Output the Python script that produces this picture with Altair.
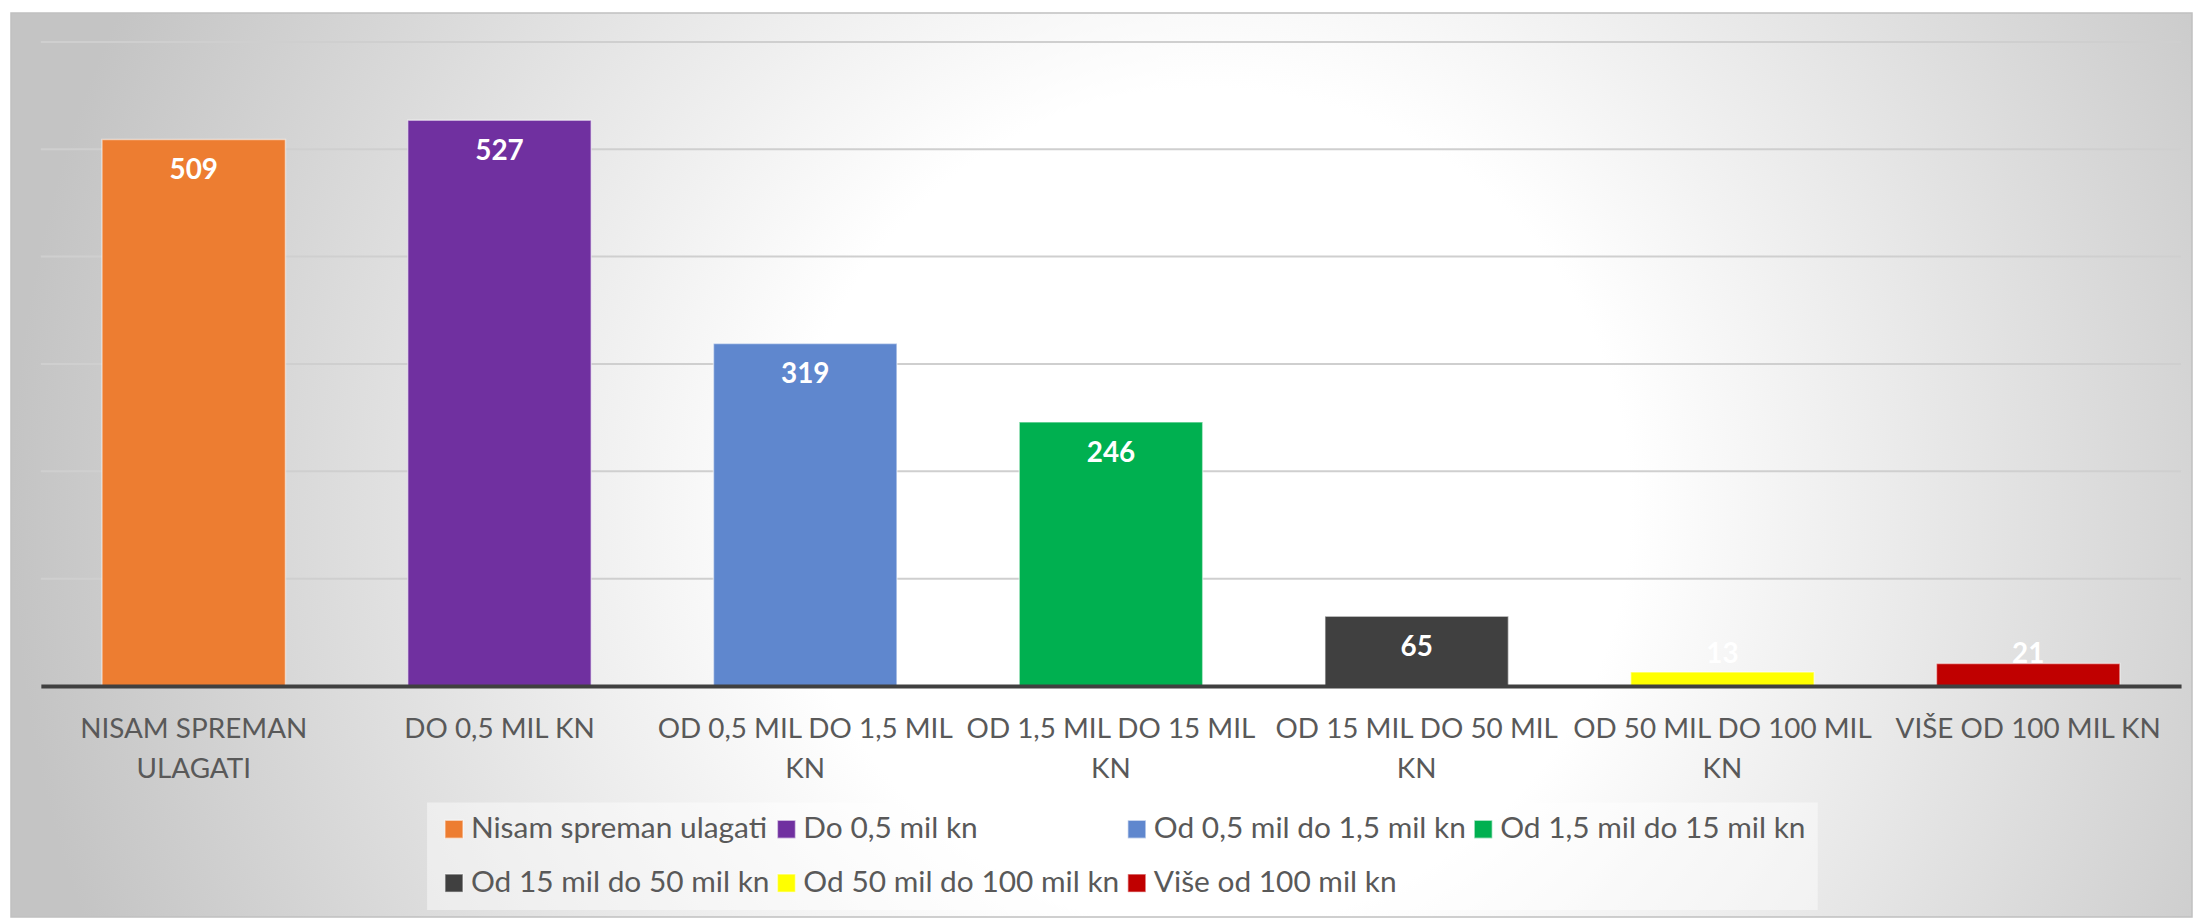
import altair as alt
import pandas as pd

# ---- data ----
legend_names = [
    "Nisam spreman ulagati",
    "Do 0,5 mil kn",
    "Od 0,5 mil do 1,5 mil kn",
    "Od 1,5 mil do 15 mil kn",
    "Od 15 mil do 50 mil kn",
    "Od 50 mil do 100 mil kn",
    "Više od 100 mil kn",
]
axis_labels = [
    "NISAM SPREMAN|ULAGATI",
    "DO 0,5 MIL KN",
    "OD 0,5 MIL DO 1,5 MIL|KN",
    "OD 1,5 MIL DO 15 MIL|KN",
    "OD 15 MIL DO 50 MIL|KN",
    "OD 50 MIL DO 100 MIL|KN",
    "VIŠE OD 100 MIL KN",
]
values = [509, 527, 319, 246, 65, 13, 21]
colors = ["#ED7D31", "#7030A0", "#5F87CE", "#00B050", "#404040", "#FFFF00", "#C00000"]
grid_values = [100, 200, 300, 400, 500, 600]

df = pd.DataFrame({"legend": legend_names, "axis": axis_labels, "value": values})
grid_df = pd.DataFrame({"g": grid_values})

W, H = 2150, 647
FONT = "Lato"

yscale = alt.Scale(domain=[0, 600], nice=False, zero=True)

xenc = alt.X(
    "axis:N",
    sort=axis_labels,
    scale=alt.Scale(paddingInner=0.4, paddingOuter=0.2),
    axis=alt.Axis(
        title=None,
        labelAngle=0,
        labelExpr="split(datum.label, '|')",
        labelFont=FONT,
        labelFontSize=28,
        labelColor="#595959",
        labelLineHeight=40,
        labelPadding=30,
        labelLimit=500,
        ticks=False,
        domainColor="#404040",
        domainWidth=4,
        zindex=1,
    ),
)

bg = alt.Chart(pd.DataFrame({"k": [0]})).mark_rect(
    fill=alt.Gradient(
        gradient="radial",
        stops=[
            alt.GradientStop(color="#ffffff", offset=0),
            alt.GradientStop(color="#ffffff", offset=0.35),
            alt.GradientStop(color="#c4c4c4", offset=1),
        ],
        x1=0.55, y1=0.52, r1=0, x2=0.55, y2=0.52, r2=0.55,
    ),
    stroke="#c0c0c0",
    strokeWidth=1.5,
).encode(
    x=alt.value(-30), x2=alt.value(W + 11),
    y=alt.value(-29), y2=alt.value(H + 232),
)

grid = alt.Chart(grid_df).mark_rule(color="#cfcfcf", strokeWidth=2).encode(
    y=alt.Y("g:Q", scale=yscale, axis=None)
)

bars = alt.Chart(df).mark_bar(stroke="white", strokeOpacity=0.5, strokeWidth=1.5).encode(
    x=xenc,
    y=alt.Y("value:Q", scale=yscale, axis=None),
    color=alt.Color(
        "legend:N",
        sort=legend_names,
        scale=alt.Scale(domain=legend_names, range=colors),
        legend=alt.Legend(
            title=None,
            orient="none",
            legendX=388,
            legendY=764,
            direction="horizontal",
            columns=4,
            symbolType="square",
            symbolSize=330,
            symbolStrokeWidth=1.5,
            symbolStrokeColor="rgba(255,255,255,0.5)",
            labelFont=FONT,
            labelFontSize=30,
            labelColor="#595959",
            labelLimit=500,
            labelOffset=2,
            columnPadding=2,
            rowPadding=24,
            padding=12,
            fillColor="rgba(255,255,255,0.45)",
        ),
    ),
)

labels = alt.Chart(df).transform_calculate(
    ly="max(datum.value - 29.7, 28.7)"
).mark_text(
    color="white", fontWeight="bold", fontSize=28, font=FONT, baseline="middle"
).encode(
    x=xenc,
    y=alt.Y("ly:Q", scale=yscale, axis=None),
    text=alt.Text("value:Q"),
)

chart = alt.layer(bg, grid, bars, labels).properties(
    width=W, height=H,
    padding={"left": 2, "top": 2, "right": 0, "bottom": 0},
    background="white",
).configure_view(stroke=None)

chart.save("out.html", embed_options={"renderer": "svg", "actions": False})
